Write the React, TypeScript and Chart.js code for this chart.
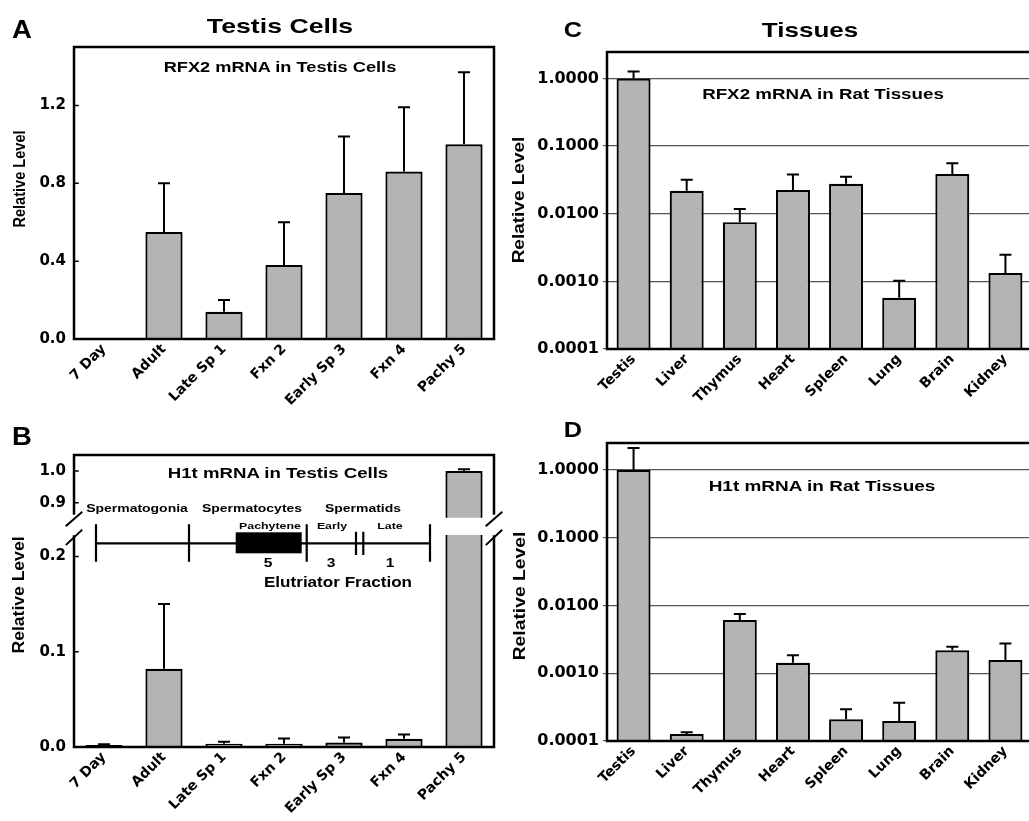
import React, { useEffect, useRef } from 'react';
import { Chart, registerables } from 'chart.js';

Chart.register(...registerables);

// ---------- DATA ----------
const cellCategories = ['7 Day', 'Adult', 'Late Sp 1', 'Fxn 2', 'Early Sp 3', 'Fxn 4', 'Pachy 5'];
const rfx2CellValues = [null, 0.55, 0.14, 0.38, 0.75, 0.86, 1.0];
const rfx2CellErrorTops = [null, 0.8, 0.2, 0.6, 1.04, 1.19, 1.37];
const rfx2CellTicks = [0, 0.4, 0.8, 1.2];
const rfx2CellTickLabels = ['0.0', '0.4', '0.8', '1.2'];

const h1tCellValues = [0.002, 0.082, 0.0035, 0.0035, 0.0046, 0.0087, 1.0];
const h1tCellErrorTops = [0.003, 0.15, 0.0056, 0.009, 0.01, 0.013, 1.005];
const h1tCellTicks = [0, 0.1, 0.2, 0.9, 1.0];
const h1tCellTickLabels = ['0.0', '0.1', '0.2', '0.9', '1.0'];

const tissueCategories = ['Testis', 'Liver', 'Thymus', 'Heart', 'Spleen', 'Lung', 'Brain', 'Kidney'];
const rfx2TissueValues = [1.0, 0.0218, 0.0075, 0.0225, 0.0277, 0.00057, 0.0388, 0.00133];
const rfx2TissueErrorTops = [1.27, 0.0317, 0.0117, 0.0379, 0.0351, 0.00102, 0.0559, 0.00247];
const h1tTissueValues = [1.0, 0.000127, 0.0061, 0.00143, 0.00021, 0.000197, 0.00219, 0.00157];
const h1tTissueErrorTops = [2.11, 0.000135, 0.0075, 0.00185, 0.000294, 0.000368, 0.00247, 0.00274];
const logTicks = [0.0001, 0.001, 0.01, 0.1, 1];
const logTickLabels = ['0.0001', '0.0010', '0.0100', '0.1000', '1.0000'];

// broken-axis mapping for panel B (real value -> display value)
const BREAK_LOWER_TOP = 0.22;
const BREAK_REAL_START = 0.86;
const BREAK_DISPLAY_START = 0.243;
const BREAK_COMPRESS = 1 / 3;
const toBroken = (v: number | null) =>
  v == null ? null : v <= BREAK_LOWER_TOP ? v : BREAK_DISPLAY_START + (v - BREAK_REAL_START) * BREAK_COMPRESS;

const TICK_FONT = '"DejaVu Sans", Verdana, sans-serif';
const BAR_FILL = '#b4b4b4';

// ---------- PLUGINS ----------
function errorBarPlugin(tops: (number | null)[], map: (v: number) => any = (v) => v) {
  return {
    id: 'errorBars',
    afterDatasetsDraw(chart: any) {
      const meta = chart.getDatasetMeta(0);
      const ys = chart.scales.y;
      const ctx = chart.ctx;
      ctx.save();
      ctx.strokeStyle = '#000';
      ctx.lineWidth = 2;
      meta.data.forEach((bar: any, i: number) => {
        const t = tops[i];
        if (t == null || bar == null || isNaN(bar.y)) return;
        const yTop = ys.getPixelForValue(map(t));
        ctx.beginPath();
        ctx.moveTo(bar.x, bar.y);
        ctx.lineTo(bar.x, yTop);
        ctx.moveTo(bar.x - 6, yTop);
        ctx.lineTo(bar.x + 6, yTop);
        ctx.stroke();
      });
      ctx.restore();
    },
  };
}

function framePlugin(opts: { inwardTicks?: boolean; broken?: boolean }) {
  return {
    id: 'frame',
    afterDraw(chart: any) {
      const { ctx, chartArea } = chart;
      const { left, right, top, bottom } = chartArea;
      const ys = chart.scales.y;
      ctx.save();
      ctx.strokeStyle = '#000';
      ctx.lineCap = 'square';
      if (opts.broken) {
        const gTop = ys.getPixelForValue(0.245);
        const gBot = ys.getPixelForValue(0.221);
        const meta = chart.getDatasetMeta(0);
        ctx.fillStyle = '#fff';
        meta.data.forEach((bar: any) => {
          if (bar.y < gTop) {
            const bt = ys.getPixelForValue(0.2405);
            const bb = ys.getPixelForValue(0.2225);
            ctx.fillRect(bar.x - bar.width / 2 - 3, bt, bar.width + 6, bb - bt);
          }
        });
        ctx.lineWidth = 2.5;
        ctx.beginPath();
        ctx.moveTo(left, bottom);
        ctx.lineTo(right, bottom);
        ctx.moveTo(left, top);
        ctx.lineTo(right, top);
        [left, right].forEach((x) => {
          ctx.moveTo(x, top);
          ctx.lineTo(x, gTop);
          ctx.moveTo(x, gBot);
          ctx.lineTo(x, bottom);
        });
        ctx.stroke();
        ctx.lineWidth = 2;
        ctx.beginPath();
        [left, right].forEach((x) => {
          ctx.moveTo(x - 7.5, gTop + 12);
          ctx.lineTo(x + 7.5, gTop - 1);
          ctx.moveTo(x - 7.5, gBot + 8);
          ctx.lineTo(x + 7.5, gBot - 6);
        });
        ctx.stroke();
      } else {
        ctx.lineWidth = 2.5;
        ctx.strokeRect(left, top, right - left, bottom - top);
      }
      if (opts.inwardTicks) {
        ctx.lineWidth = 1.5;
        ctx.beginPath();
        ys.ticks.forEach((t: any) => {
          const y = ys.getPixelForValue(t.value);
          ctx.moveTo(left, y);
          ctx.lineTo(left + 4, y);
        });
        ctx.stroke();
      }
      ctx.restore();
    },
  };
}

function stageDiagramPlugin() {
  // schematic of spermatogenic stages drawn in panel B (canvas-local coordinates)
  return {
    id: 'stageDiagram',
    afterDraw(chart: any) {
      const ctx = chart.ctx;
      ctx.save();
      ctx.strokeStyle = '#000';
      ctx.lineWidth = 2.2;
      ctx.beginPath();
      ctx.moveTo(96, 143.3);
      ctx.lineTo(430, 143.3);
      [96, 189, 306.7, 430].forEach((x) => {
        ctx.moveTo(x, 124.3);
        ctx.lineTo(x, 161.7);
      });
      [356, 363.3].forEach((x) => {
        ctx.moveTo(x, 131.7);
        ctx.lineTo(x, 155);
      });
      ctx.stroke();
      ctx.fillStyle = '#000';
      ctx.fillRect(235.7, 132.3, 66, 21);
      ctx.restore();
    },
  };
}

// ---------- CHART FACTORY ----------
type Panel = {
  labels: string[];
  values: (number | null)[];
  barPct: number;
  padTop: number;
  padRight: number;
  yWidth: number;
  xHeight: number;
  yType: 'linear' | 'logarithmic';
  yMin: number;
  yMax: number;
  ticks: number[];
  tickLabels: string[];
  grid: boolean;
  plugins: any[];
};

function makeChart(canvas: HTMLCanvasElement, p: Panel) {
  return new Chart(canvas, {
    type: 'bar',
    data: {
      labels: p.labels,
      datasets: [
        {
          data: p.values as any,
          backgroundColor: BAR_FILL,
          borderColor: '#000',
          borderWidth: 2.2,
          barPercentage: p.barPct,
          categoryPercentage: 1,
        },
      ],
    },
    options: {
      responsive: false,
      animation: false,
      devicePixelRatio: 1,
      layout: { padding: { top: p.padTop, right: p.padRight, left: 0, bottom: 0 } },
      plugins: { legend: { display: false }, tooltip: { enabled: false }, title: { display: false } },
      scales: {
        x: {
          grid: { display: false, drawTicks: false },
          border: { display: false },
          ticks: {
            autoSkip: false,
            minRotation: 45,
            maxRotation: 45,
            padding: 2,
            color: '#000',
            font: { family: TICK_FONT, size: 14, weight: 'bold' },
          },
          afterFit: (s: any) => {
            s.height = p.xHeight;
          },
        },
        y: {
          type: p.yType,
          min: p.yMin,
          max: p.yMax,
          grid: p.grid
            ? { display: true, color: '#555', lineWidth: 1.2, drawTicks: true, tickLength: 4 }
            : { display: false, drawTicks: false },
          border: { display: false },
          ticks: {
            padding: p.grid ? 4 : 8,
            color: '#000',
            font: { family: TICK_FONT, size: p.grid ? 16 : 15, weight: 'bold' },
            callback: (_v: any, i: number) => p.tickLabels[i],
          },
          afterBuildTicks: (s: any) => {
            s.ticks = p.ticks.map((v) => ({ value: v }));
          },
          afterFit: (s: any) => {
            s.width = p.yWidth;
          },
        },
      },
    } as any,
    plugins: p.plugins,
  });
}

function ChartCanvas({ left, top, width, height, panel }: { left: number; top: number; width: number; height: number; panel: () => Panel }) {
  const ref = useRef<HTMLCanvasElement | null>(null);
  useEffect(() => {
    if (!ref.current) return;
    const c = makeChart(ref.current, panel());
    return () => c.destroy();
  }, []);
  return <canvas ref={ref} width={width} height={height} style={{ position: 'absolute', left, top }} />;
}

function T({ t, x, y, size, sx = 1, sy = 1, rot = false }: { t: string; x: number; y: number; size: number; sx?: number; sy?: number; rot?: boolean }) {
  return (
    <div
      style={{
        position: 'absolute',
        left: x,
        top: y,
        transform: `translate(-50%, -50%) scale(${sx}, ${sy})${rot ? ' rotate(-90deg)' : ''}`,
        fontFamily: '"Liberation Sans", Arial, sans-serif',
        fontWeight: 'bold',
        fontSize: size,
        lineHeight: 1,
        whiteSpace: 'nowrap',
        color: '#000',
      }}
    >
      {t}
    </div>
  );
}

export default function App() {
  const panelA = (): Panel => ({
    labels: cellCategories,
    values: rfx2CellValues,
    barPct: 0.62,
    padTop: 47,
    padRight: 26,
    yWidth: 74,
    xHeight: 76,
    yType: 'linear',
    yMin: 0,
    yMax: 1.5,
    ticks: rfx2CellTicks,
    tickLabels: rfx2CellTickLabels,
    grid: false,
    plugins: [errorBarPlugin(rfx2CellErrorTops), framePlugin({ inwardTicks: true })],
  });
  const panelB = (): Panel => ({
    labels: cellCategories,
    values: h1tCellValues.map(toBroken),
    barPct: 0.62,
    padTop: 55,
    padRight: 26,
    yWidth: 74,
    xHeight: 74,
    yType: 'linear',
    yMin: 0,
    yMax: 0.3064,
    ticks: h1tCellTicks.map((v) => toBroken(v) as number),
    tickLabels: h1tCellTickLabels,
    grid: false,
    plugins: [
      errorBarPlugin(h1tCellErrorTops, toBroken),
      framePlugin({ inwardTicks: true, broken: true }),
      stageDiagramPlugin(),
    ],
  });
  const panelC = (): Panel => ({
    labels: tissueCategories,
    values: rfx2TissueValues,
    barPct: 0.64,
    padTop: 52,
    padRight: 18,
    yWidth: 97,
    xHeight: 66,
    yType: 'logarithmic',
    yMin: 0.0001,
    yMax: 2.46,
    ticks: logTicks,
    tickLabels: logTickLabels,
    grid: true,
    plugins: [errorBarPlugin(rfx2TissueErrorTops), framePlugin({})],
  });
  const panelD = (): Panel => ({
    labels: tissueCategories,
    values: h1tTissueValues,
    barPct: 0.64,
    padTop: 43,
    padRight: 18,
    yWidth: 97,
    xHeight: 80,
    yType: 'logarithmic',
    yMin: 0.0001,
    yMax: 2.51,
    ticks: logTicks,
    tickLabels: logTickLabels,
    grid: true,
    plugins: [errorBarPlugin(h1tTissueErrorTops), framePlugin({})],
  });

  return (
    <div style={{ position: 'absolute', left: 0, top: 0, width: 1029, height: 821, overflow: 'hidden', background: '#fff' }}>
      <ChartCanvas left={0} top={0} width={520} height={415} panel={panelA} />
      <ChartCanvas left={0} top={400} width={520} height={421} panel={panelB} />
      <ChartCanvas left={510} top={0} width={540} height={415} panel={panelC} />
      <ChartCanvas left={510} top={400} width={540} height={421} panel={panelD} />

      {/* Panel A */}
      <T t="A" x={22} y={29} size={25} sx={1.1} />
      <T t="Testis Cells" x={280} y={24.5} size={21} sx={1.27} />
      <T t="RFX2 mRNA in Testis Cells" x={280.3} y={66.7} size={14} sx={1.3} />
      <T t="Relative Level" x={18.5} y={178.5} size={15} sx={1.12} sy={0.97} rot />

      {/* Panel C */}
      <T t="C" x={572.5} y={29.5} size={22} sx={1.15} />
      <T t="Tissues" x={810} y={29.2} size={21} sx={1.24} />
      <T t="RFX2 mRNA in Rat Tissues" x={823.3} y={93} size={15} sx={1.25} />
      <T t="Relative Level" x={519.3} y={200} size={14.5} sx={1.1} sy={1.31} rot />

      {/* Panel B */}
      <T t="B" x={21.7} y={435.8} size={25} sx={1.1} />
      <T t="H1t mRNA in Testis Cells" x={278.3} y={472.5} size={14} sx={1.33} />
      <T t="Relative Level" x={18.8} y={595} size={14.5} sx={1.1} sy={1.21} rot />
      <T t="Spermatogonia" x={136.7} y={508.3} size={11} sx={1.27} />
      <T t="Spermatocytes" x={251.7} y={508.3} size={11} sx={1.27} />
      <T t="Spermatids" x={362.7} y={508.3} size={11} sx={1.27} />
      <T t="Pachytene" x={270} y={525.7} size={9.5} sx={1.3} />
      <T t="Early" x={331.7} y={525.7} size={9.5} sx={1.3} />
      <T t="Late" x={390} y={525.7} size={9.5} sx={1.3} />
      <T t="5" x={268.3} y={562.3} size={13} sx={1.2} />
      <T t="3" x={330.7} y={562.3} size={13} sx={1.2} />
      <T t="1" x={390} y={562.3} size={13} sx={1.2} />
      <T t="Elutriator Fraction" x={338.3} y={581.7} size={14} sx={1.22} />

      {/* Panel D */}
      <T t="D" x={573.3} y={430} size={22} sx={1.15} />
      <T t="H1t mRNA in Rat Tissues" x={822.2} y={485} size={15} sx={1.265} />
      <T t="Relative Level" x={519.8} y={595.8} size={14.5} sx={1.1} sy={1.33} rot />
    </div>
  );
}
